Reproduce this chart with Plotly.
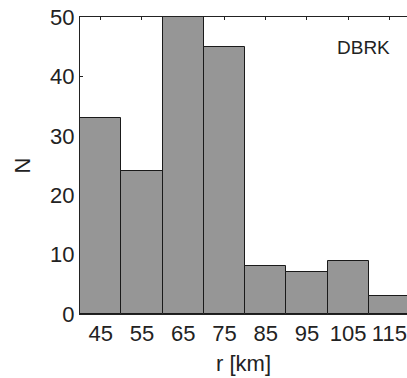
import plotly.graph_objects as go

r_centers = [45, 55, 65, 75, 85, 95, 105, 115]
counts = [33, 24, 50, 45, 8, 7, 9, 3]
tick_labels = ["45", "55", "65", "75", "85", "95", "105", "115"]
y_ticks = [0, 10, 20, 30, 40, 50]

fig = go.Figure()
fig.add_trace(go.Bar(
    x=r_centers, y=counts, width=10,
    marker=dict(color="#969696", line=dict(color="#1a1a1a", width=1)),
))

font = "Liberation Sans, Arial, sans-serif"
fig.update_layout(
    width=407, height=378,
    margin=dict(l=80, r=0, t=17, b=64),
    plot_bgcolor="white", paper_bgcolor="white",
    showlegend=False,
    bargap=0,
    font=dict(family=font, size=22, color="#222"),
    xaxis=dict(
        range=[40, 119.27], tickvals=r_centers, ticktext=tick_labels,
        ticks="inside", ticklen=3, tickcolor="#222",
        showline=True, linecolor="#222", linewidth=1, mirror="ticks",
        showgrid=False, zeroline=False, layer="below traces",
        automargin=False, ticklabeloverflow="allow",
        title=dict(text="r [km]", font=dict(size=22), standoff=10),
        tickfont=dict(size=22),
    ),
    yaxis=dict(
        range=[0, 50], tickvals=y_ticks,
        ticks="inside", ticklen=3, tickcolor="#222",
        showline=True, linecolor="#222", linewidth=1,
        showgrid=False, zeroline=False, layer="below traces",
        automargin=False, ticklabeloverflow="allow",
        title=dict(text="N", font=dict(size=22), standoff=13),
        tickfont=dict(size=22),
    ),
    annotations=[dict(
        text="DBRK", x=0.954, y=0.897, xref="paper", yref="paper",
        xanchor="right", yanchor="middle", showarrow=False,
        font=dict(family=font, size=19, color="#222"),
    )],
)

# remove the browser's default 8px body margin so the figure fills the window
fig.write_html("out.html", config={"displayModeBar": False},
               post_script="document.body.style.margin='0';")
